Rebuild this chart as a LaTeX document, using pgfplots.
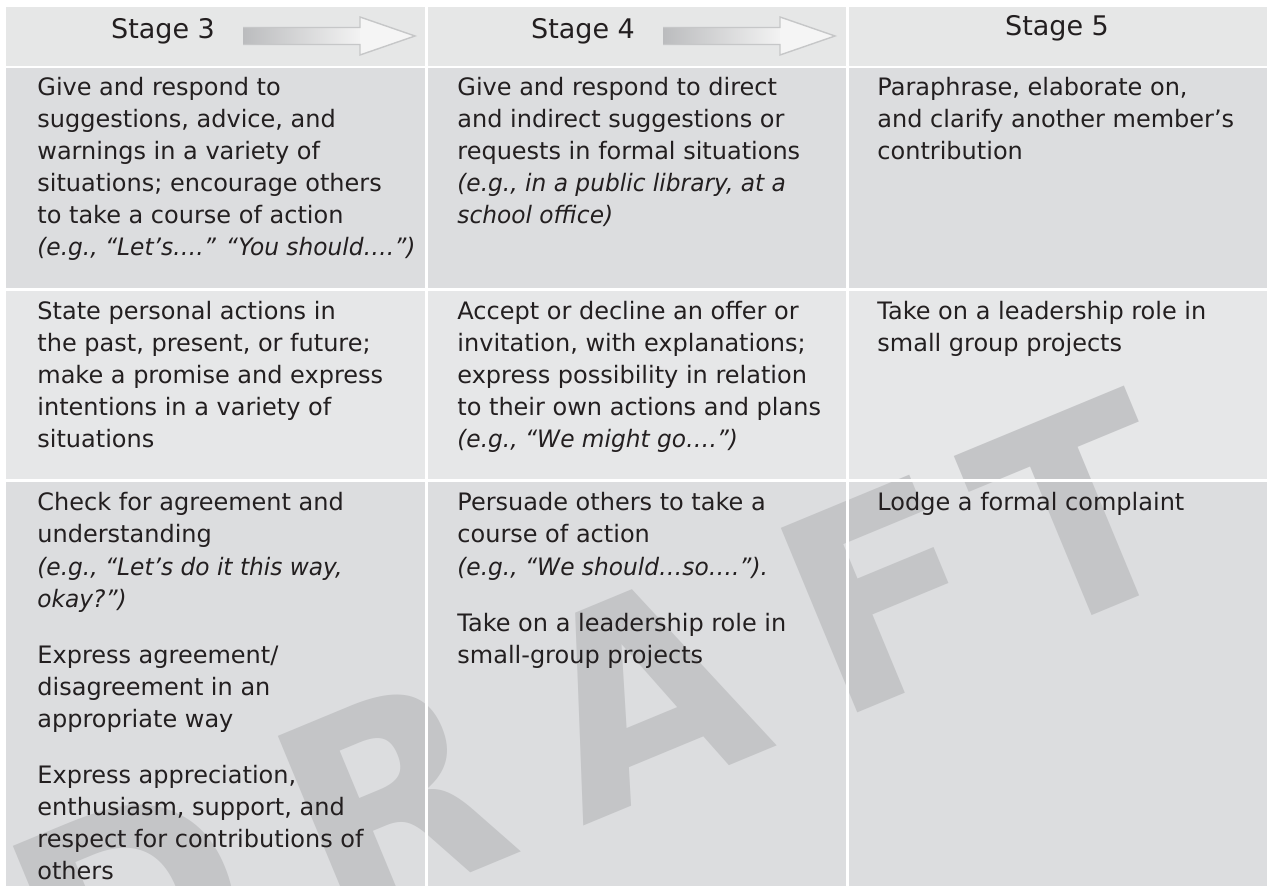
\documentclass[border=0pt]{standalone}
\usepackage{pgfplots}
\pgfplotsset{compat=1.18}
\usepackage{fontspec}
\setmainfont{DejaVu Sans}[ItalicFeatures={FakeStretch=0.97}]
\definecolor{hdr}{HTML}{E6E7E7}
\definecolor{cdark}{HTML}{DCDDDF}
\definecolor{clight}{HTML}{E6E7E8}
\definecolor{wm}{HTML}{C4C5C7}
\definecolor{txt}{HTML}{231F20}
\definecolor{arrL}{HTML}{BBBCBE}
\definecolor{arrR}{HTML}{F3F3F3}
\definecolor{arrH}{HTML}{F5F5F5}
\definecolor{arrO}{HTML}{C6C7C8}
\newcommand{\Ln}[3]{\node[anchor=base west,inner sep=0pt,text=txt,font=\fontsize{12}{16}\selectfont] at (axis cs:#1,#2) {#3};}
\newcommand{\Li}[3]{\node[anchor=base west,inner sep=0pt,text=txt,font=\fontsize{12}{16}\selectfont\itshape] at (axis cs:#1,#2) {#3};}
\newcommand{\Hd}[3]{\node[anchor=base,inner sep=0pt,text=txt,font=\fontsize{13.5}{16}\selectfont] at (axis cs:#1,#2) {#3};}
\newcommand{\Arr}[1]{%
  \shade[left color=arrL, right color=arrR] (axis cs:243+#1,27.5) rectangle (axis cs:361+#1,44.5);
  \fill[arrH] (axis cs:360+#1,17) -- (axis cs:415+#1,36) -- (axis cs:360+#1,55) -- cycle;
  \draw[arrO, line width=0.7pt, line join=miter] (axis cs:243+#1,27.5) -- (axis cs:360+#1,27.5) -- (axis cs:360+#1,17) -- (axis cs:415+#1,36) -- (axis cs:360+#1,55) -- (axis cs:360+#1,44.5) -- (axis cs:243+#1,44.5);
}
\begin{document}
\begin{tikzpicture}
\begin{axis}[name=ax, scale only axis, width=633.5pt, height=443pt,
  xmin=0, xmax=1267, ymin=0, ymax=886, y dir=reverse, hide axis, clip=false]
% backgrounds
\addplot[fill=hdr, draw=none] coordinates {(6,7) (1267,7) (1267,67) (6,67)} -- cycle;
\addplot[fill=cdark, draw=none] coordinates {(6,67) (1267,67) (1267,289.5) (6,289.5)} -- cycle;
\addplot[fill=clight, draw=none] coordinates {(6,289.5) (1267,289.5) (1267,480.5) (6,480.5)} -- cycle;
\addplot[fill=cdark, draw=none] coordinates {(6,480.5) (1267,480.5) (1267,886) (6,886)} -- cycle;
% watermark
\begin{scope}
\clip (axis cs:6,68) rectangle (axis cs:1267,886);
\node[rotate=22.5, anchor=base west, inner sep=0pt, text=wm, font=\fontsize{137}{137}\selectfont\bfseries] at (axis cs:66,1041) {D\kern0.22em R\kern0.22em A\kern0.22em F\kern0.09em T};
\end{scope}
% separators
\addplot[white, line width=1.5pt] coordinates {(426.7,7) (426.7,886)};
\addplot[white, line width=1.5pt] coordinates {(847.2,7) (847.2,886)};
\addplot[white, line width=1.3pt] coordinates {(6,67.2) (1267,67.2)};
\addplot[white, line width=1.3pt] coordinates {(6,289.5) (1267,289.5)};
\addplot[white, line width=1.3pt] coordinates {(6,480.8) (1267,480.8)};
% arrows
\Arr{0}
\Arr{420}
% header
\Hd{163}{39}{Stage 3}
\Hd{583}{39}{Stage 4}
\Hd{1057}{36}{Stage 5}
% column 1
\Ln{37}{96}{Give and respond to}
\Ln{37}{128}{suggestions, advice, and}
\Ln{37}{160}{warnings in a variety of}
\Ln{37}{192}{situations; encourage others}
\Ln{37}{224}{to take a course of action}
\Li{37}{256}{(e.g., “Let’s….” “You should….”)}
\Ln{37}{320}{State personal actions in}
\Ln{37}{352}{the past, present, or future;}
\Ln{37}{384}{make a promise and express}
\Ln{37}{416}{intentions in a variety of}
\Ln{37}{448}{situations}
\Ln{37}{511}{Check for agreement and}
\Ln{37}{543}{understanding}
\Li{37}{575}{(e.g., “Let’s do it this way,}
\Li{37}{607}{okay?”)}
\Ln{37}{663}{Express agreement/}
\Ln{37}{695}{disagreement in an}
\Ln{37}{727}{appropriate way}
\Ln{37}{783}{Express appreciation,}
\Ln{37}{815}{enthusiasm, support, and}
\Ln{37}{847}{respect for contributions of}
\Ln{37}{879}{others}
% column 2
\Ln{457}{96}{Give and respond to direct}
\Ln{457}{128}{and indirect suggestions or}
\Ln{457}{160}{requests in formal situations}
\Li{457}{192}{(e.g., in a public library, at a}
\Li{457}{224}{school office)}
\Ln{457}{320}{Accept or decline an offer or}
\Ln{457}{352}{invitation, with explanations;}
\Ln{457}{384}{express possibility in relation}
\Ln{457}{416}{to their own actions and plans}
\Li{457}{448}{(e.g., “We might go….”)}
\Ln{457}{511}{Persuade others to take a}
\Ln{457}{543}{course of action}
\Li{457}{575}{(e.g., “We should…so….”).}
\Ln{457}{631}{Take on a leadership role in}
\Ln{457}{663}{small-group projects}
% column 3
\Ln{877}{96}{Paraphrase, elaborate on,}
\Ln{877}{128}{and clarify another member’s}
\Ln{877}{160}{contribution}
\Ln{877}{320}{Take on a leadership role in}
\Ln{877}{352}{small group projects}
\Ln{877}{511}{Lodge a formal complaint}
\end{axis}
\pgfresetboundingbox
\useasboundingbox (ax.south west) rectangle (ax.north east);
\end{tikzpicture}
\end{document}
